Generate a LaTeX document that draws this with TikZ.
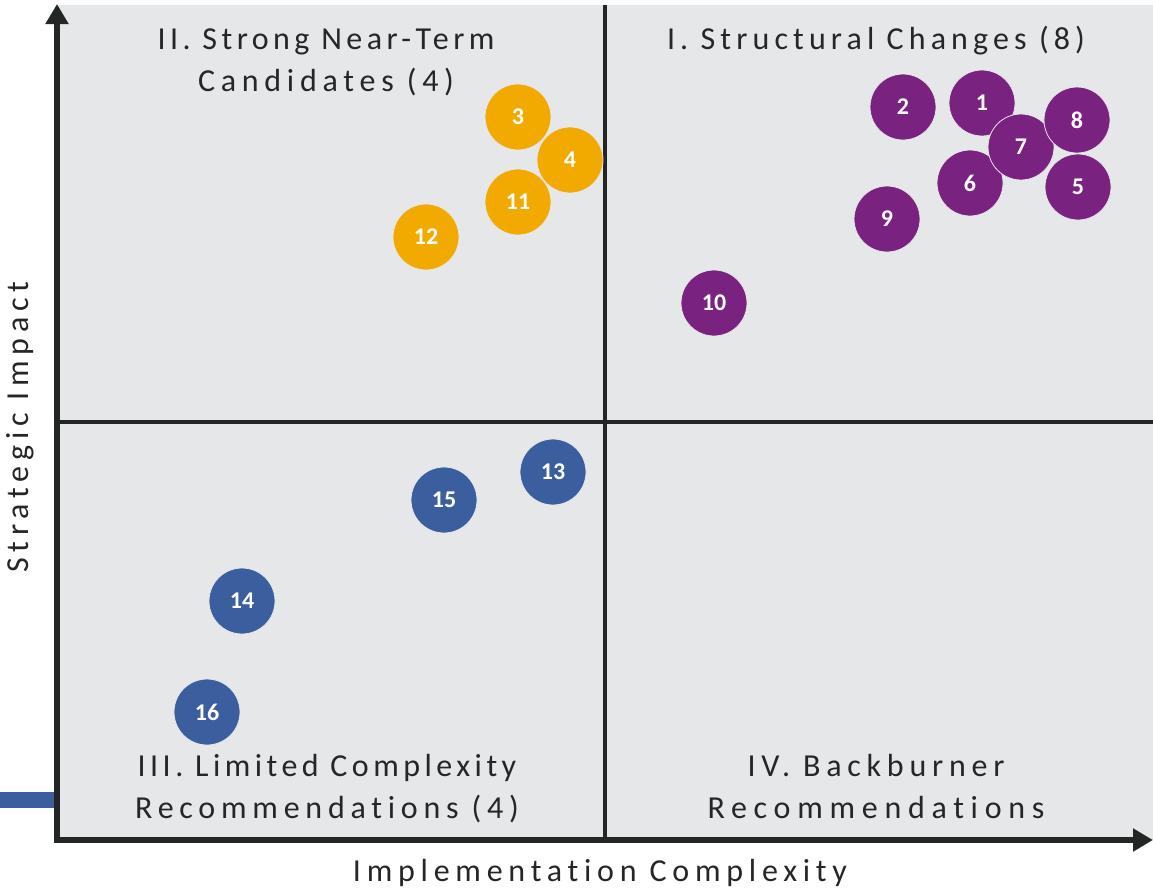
\documentclass[tikz,border=0pt]{standalone}
\usepackage{fontspec}
\setmainfont{Carlito}
\newfontfamily\spaced[LetterSpace=18,Ligatures=NoCommon]{Carlito}
\newfontfamily\spacedq[LetterSpace=16,Ligatures=NoCommon]{Carlito}
\newfontfamily\spacedr[LetterSpace=14,Ligatures=NoCommon]{Carlito}
\usetikzlibrary{arrows.meta}
\definecolor{bgray}{HTML}{E6E7E9}
\definecolor{axisc}{HTML}{222624}
\definecolor{txt}{HTML}{262626}
\definecolor{purp}{HTML}{7A2280}
\definecolor{oran}{HTML}{F2A900}
\definecolor{blu}{HTML}{3A5E9E}
\tikzset{
  axis/.style={draw=axisc, line width=5.5pt, -{Triangle[width=22pt,length=20pt]}},
  qline/.style={draw=axisc, line width=4pt},
  dot/.style={circle, minimum size=66pt, inner sep=0pt, text=white, draw=bgray, line width=0.8pt,
    font=\bfseries\fontsize{24}{24}\selectfont},
  pdot/.style={dot, fill=purp},
  odot/.style={dot, fill=oran},
  bdot/.style={dot, fill=blu},
  qlabel/.style={text=txt, align=center, font=\spaced\fontsize{32}{42}\selectfont, inner sep=0pt},
}
\begin{document}
\begin{tikzpicture}[x=1pt,y=-1pt]
\useasboundingbox (0,0) rectangle (1153,887);
\fill[bgray] (58,5) rectangle (1153,840);
% blue bar
\fill[blu] (0,792) rectangle (54,808);
% coordinates
\coordinate (org) at (57,840);
\coordinate (ytip) at (57,4);
\coordinate (xtip) at (1153,840);
\coordinate (vtop) at (605,5);
\coordinate (vbot) at (605,840);
\coordinate (hl) at (58,422);
\coordinate (hr) at (1153,422);
\draw[qline] (vtop) -- (vbot);
\draw[qline] (hl) -- (hr);
\draw[axis] ([yshift=-2.75pt]org) -- (ytip);
\draw[axis] ([xshift=-2.75pt]org) -- (xtip);
% quadrant labels (base = baseline of last line)
\node[qlabel, anchor=base] (q2) at (326,91) {{\spacedr II. Strong Near-Term}\\Candidates (4)};
\node[qlabel, anchor=base, font=\spacedq\fontsize{32}{42}\selectfont] (q1) at (876,49) {I. Structural Changes (8)};
\node[qlabel, anchor=base] (q3) at (327,818) {{\spacedr III. Limited Complexity}\\Recommendations (4)};
\node[qlabel, anchor=base] (q4) at (876,818) {IV. Backburner\\{\fontspec[LetterSpace=21,Ligatures=NoCommon]{Carlito}Recommendations}};
\node[qlabel, anchor=base] (xl) at (600,881) {Implementation Complexity};
\node[qlabel, anchor=base, rotate=90] (yl) at (28,427) {Strategic Impact};
% purple
\node[pdot] (p2) at (903,107) {2};
\node[pdot] (p1) at (982,103) {1};
\node[pdot] (p6) at (970,183) {6};
\node[pdot] (p7) at (1021,147) {7};
\node[pdot] (p8) at (1077,120) {8};
\node[pdot] (p5) at (1078,187) {5};
\node[pdot] (p9) at (887,219) {9};
\node[pdot] (p10) at (714,303) {10};
% orange
\node[odot] (o3) at (518,117) {3};
\node[odot] (o4) at (570,160) {4};
\node[odot] (o11) at (518,202) {11};
\node[odot] (o12) at (426,237) {12};
% blue
\node[bdot] (b13) at (553,472) {13};
\node[bdot] (b15) at (444,500) {15};
\node[bdot] (b14) at (242,601) {14};
\node[bdot] (b16) at (207,712) {16};
\end{tikzpicture}
\end{document}
